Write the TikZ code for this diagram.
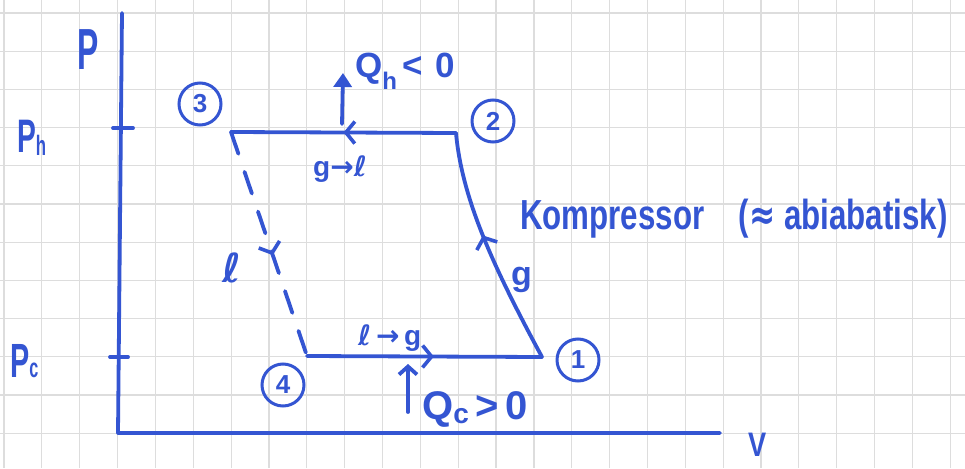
\documentclass[tikz,border=0pt]{standalone}
\usepackage{fontspec}
\setmainfont{Liberation Sans}
\newfontfamily\dv{DejaVu Sans}
\usetikzlibrary{arrows.meta,decorations.markings}
\definecolor{ink}{HTML}{3455D2}
\definecolor{gridc}{HTML}{DDDDDD}
\newcommand\lowsub[3]{\raisebox{-#1pt}{\fontsize{#2}{#2}\selectfont #3}}
\begin{document}
\begin{tikzpicture}[x=1pt,y=-1pt,
  pen/.style={draw=ink, line width=3.8pt, line cap=round, line join=round},
  hand/.style={text=ink, inner sep=0pt, anchor=base west},
  state/.style={circle, draw=ink, line width=3pt, minimum size=42pt, inner sep=0pt, text=ink, font=\bfseries\fontsize{26}{26}\selectfont},
  midarrow/.style={postaction={decorate}, decoration={markings, mark=at position #1 with {\arrow{Straight Barb[length=9pt,width=22pt,line width=3.6pt]}}}},
]
\useasboundingbox (0,0) rectangle (965,468);
\fill[white] (0,0) rectangle (965,468);
% grid paper
\foreach \i in {0,...,25} \draw[gridc, line width=1.2pt] ({4+37.85*\i},0) -- ({4+37.85*\i},468);
\foreach \j in {0,...,12} \draw[gridc, line width=1.2pt] (0,{13+38.2*\j}) -- (965,{13+38.2*\j});
% axes
\coordinate (ytop) at (122,13);
\coordinate (orig) at (118,433);
\coordinate (xend) at (720,433);
\draw[pen] (ytop) -- (orig) -- (xend);
\coordinate (th) at (123,128);
\coordinate (tc) at (119,357);
\draw[pen] ([xshift=-10pt]th) -- ([xshift=10pt]th);
\draw[pen] ([xshift=-9pt]tc) -- ([xshift=9pt]tc);
% cycle corners
\coordinate (c1) at (542,357);
\coordinate (c2) at (456,133);
\coordinate (c3) at (231,132);
\coordinate (c4) at (307,356);
\draw[pen, midarrow=0.5] (c2) -- (c3);
\draw[pen, midarrow=0.56] (c1) .. controls (495,270) and (462,200) .. (c2);
\draw[pen, midarrow=0.54] (c4) -- (c1);
\draw[pen, dash pattern=on 23pt off 19pt, midarrow=0.55] (c3) -- (c4);
% heat arrows
\coordinate (qh0) at (342,124);
\coordinate (qh1) at (343,73);
\draw[pen, -{Triangle[length=14pt,width=18pt]}] (qh0) -- (qh1);
\coordinate (qc0) at (408,412);
\coordinate (qc1) at (408,364);
\draw[pen, -{Straight Barb[length=8pt,width=18pt]}] (qc0) -- (qc1);
% state circles
\node[state] (n3) at (200,104) {3};
\node[state] (n2) at (493,121) {2};
\node[state] (n4) at (283,385) {4};
\node[state] (n1) at (578,360) {1};
% labels
\node[hand, font=\bfseries\fontsize{58}{58}\selectfont, xscale=0.55] (lP) at (77,70) {P};
\node[hand, font=\bfseries\fontsize{47}{47}\selectfont, xscale=0.6] (lPh) at (17,152) {P\lowsub{3}{28}{h}};
\node[hand, font=\bfseries\fontsize{48}{48}\selectfont, xscale=0.6] (lPc) at (10,377) {P\lowsub{0}{27}{c}};
\node[hand, font=\bfseries\fontsize{34}{34}\selectfont, xscale=0.8] (lV) at (748,456) {V};
\node[hand, font=\bfseries\fontsize{35}{35}\selectfont] (lQh) at (355,78) {Q\lowsub{12}{24}{h}\,<\,\,0};
\node[hand, font=\bfseries\fontsize{40}{40}\selectfont] (lQc) at (422,419) {Q\lowsub{4}{28}{c}\,>\,0};
\node[hand, font=\bfseries\fontsize{28}{28}\selectfont] (lgl) at (313,176) {g{\dv →}{\dv ℓ}};
\node[hand, font=\bfseries\fontsize{28}{28}\selectfont] (llg) at (358,345) {{\dv ℓ}\,{\dv →}\,g};
\node[hand, font=\bfseries\fontsize{40}{40}\selectfont] (ll) at (222,282) {\dv ℓ};
\node[hand, font=\bfseries\fontsize{34}{34}\selectfont] (lg) at (511,285) {g};
\node[hand, font=\bfseries\fontsize{42}{42}\selectfont, xscale=0.745] (lK) at (520,229) {Kompressor\hspace{1.1em}({\dv ≈} abiabatisk)};
\end{tikzpicture}
\end{document}
